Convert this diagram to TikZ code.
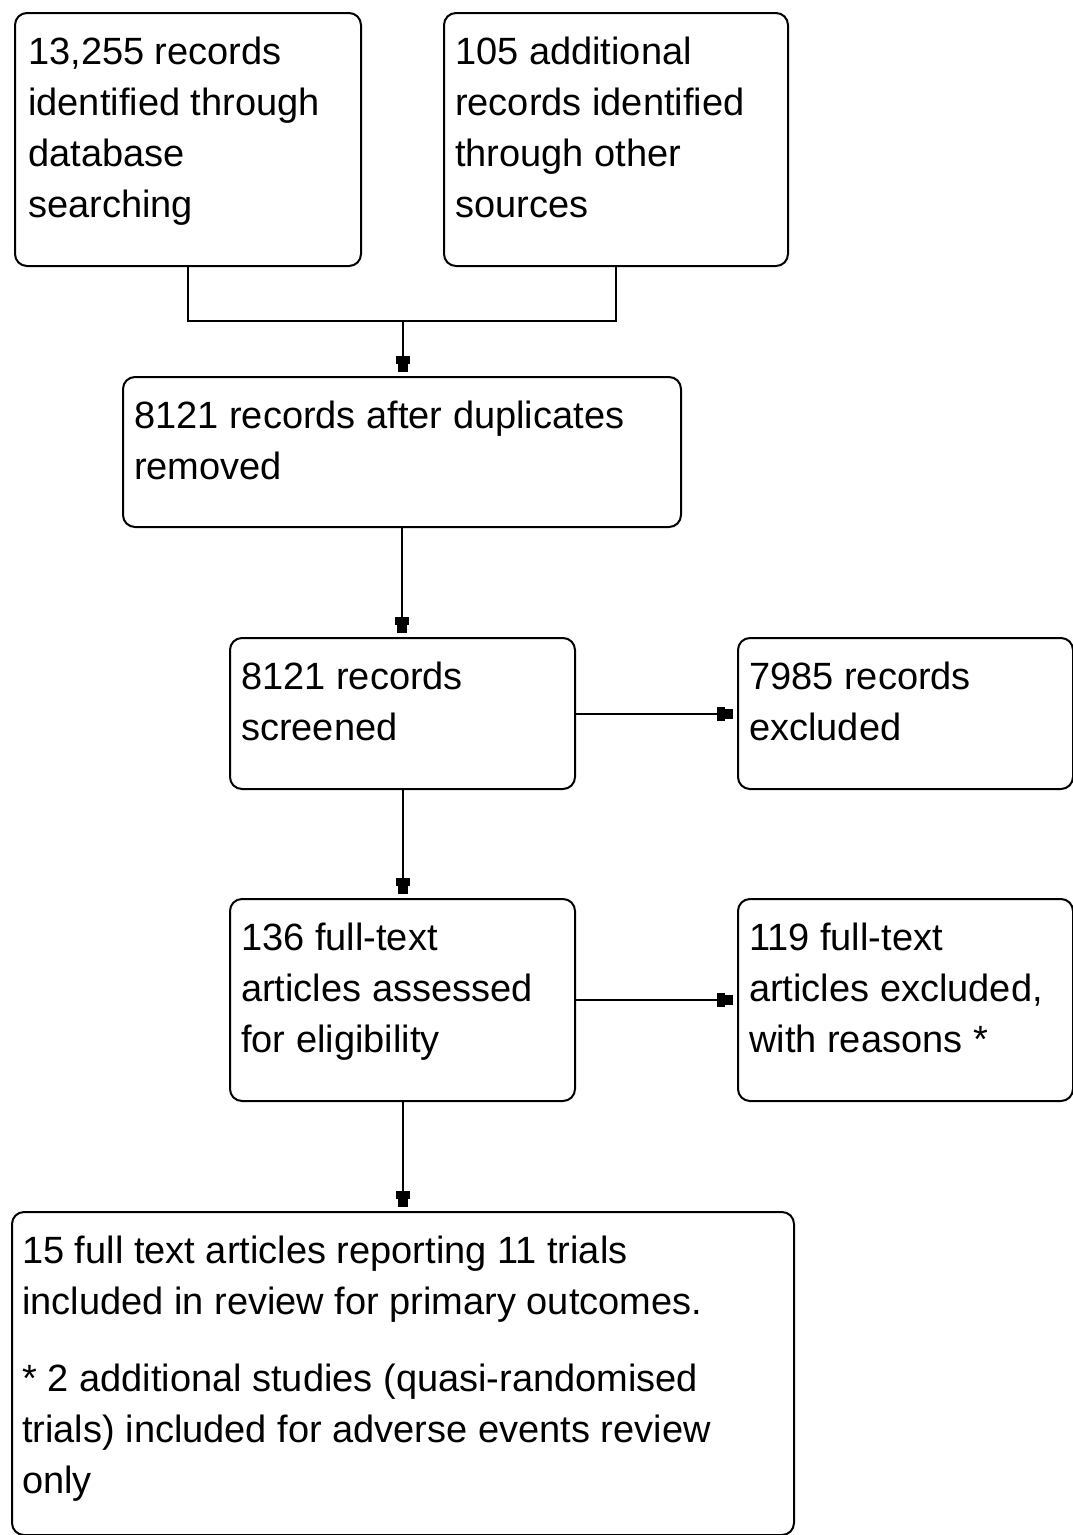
\documentclass[tikz,border=0pt]{standalone}
\usepackage{fontspec}
\setmainfont{Liberation Sans}
\usetikzlibrary{arrows.meta,calc}
\newcommand{\ftop}{\rule{0pt}{28pt}}
\begin{document}
\begin{tikzpicture}[x=1pt,y=-1pt,
  box/.style={draw, line width=2pt, rounded corners=12pt, inner sep=0pt, anchor=north west},
  txt/.style={anchor=north west, inner sep=0pt, align=left, font=\fontsize{38}{51}\selectfont},
  conn/.style={line width=2pt},
  arr/.style={line width=2pt, -{Rectangle[length=8pt,width=14pt] Rectangle[length=8pt,width=10pt]}, shorten >=4pt}
]
\useasboundingbox (0,0) rectangle (1073,1535);
\fill[white] (0,0) rectangle (1073,1535);

% boxes
\node[box, minimum width=346pt, minimum height=253pt] (A) at (14,12) {};
\node[box, minimum width=344pt, minimum height=253pt] (B) at (443,12) {};
\node[box, minimum width=558pt, minimum height=150pt] (C) at (122,376) {};
\node[box, minimum width=345pt, minimum height=151pt] (D) at (229,637) {};
\node[box, minimum width=335pt, minimum height=151pt] (E) at (737,637) {};
\node[box, minimum width=345pt, minimum height=202pt] (F) at (229,898) {};
\node[box, minimum width=335pt, minimum height=202pt] (G) at (737,898) {};
\node[box, minimum width=782pt, minimum height=323pt] (H) at (11,1211) {};

% texts
\node[txt] (tA) at ($(A.north west)+(14,24)$) {\ftop 13,255 records\\identified through\\database\\searching};
\node[txt] (tB) at ($(B.north west)+(12,24)$) {\ftop 105 additional\\records identified\\through other\\sources};
\node[txt] (tC) at ($(C.north west)+(12,24)$) {\ftop 8121 records after duplicates\\removed};
\node[txt] (tD) at ($(D.north west)+(12,24)$) {\ftop 8121 records\\screened};
\node[txt] (tE) at ($(E.north west)+(12,24)$) {\ftop 7985 records\\excluded};
\node[txt] (tF) at ($(F.north west)+(12,24)$) {\ftop 136 full-text\\articles assessed\\for eligibility};
\node[txt] (tG) at ($(G.north west)+(12,24)$) {\ftop 119 full-text\\articles excluded,\\with reasons *};
\node[txt] (tH) at ($(H.north west)+(11,24)$) {\ftop 15 full text articles reporting 11 trials\\included in review for primary outcomes.\\[26pt]* 2 additional studies (quasi-randomised\\trials) included for adverse events review\\only};

% connectors
\coordinate (J) at (403,321);
\draw[conn] (A.south) |- (J) -| (B.south);
\draw[arr] (J) -- (J |- C.north);
\draw[arr] (C.south) -- (C.south |- D.north);
\draw[arr] (D.east) -- (E.west);
\draw[arr] (D.south) -- (F.north);
\draw[arr] (F.east) -- (G.west);
\draw[arr] (F.south) -- (F.south |- H.north);
\end{tikzpicture}
\end{document}
